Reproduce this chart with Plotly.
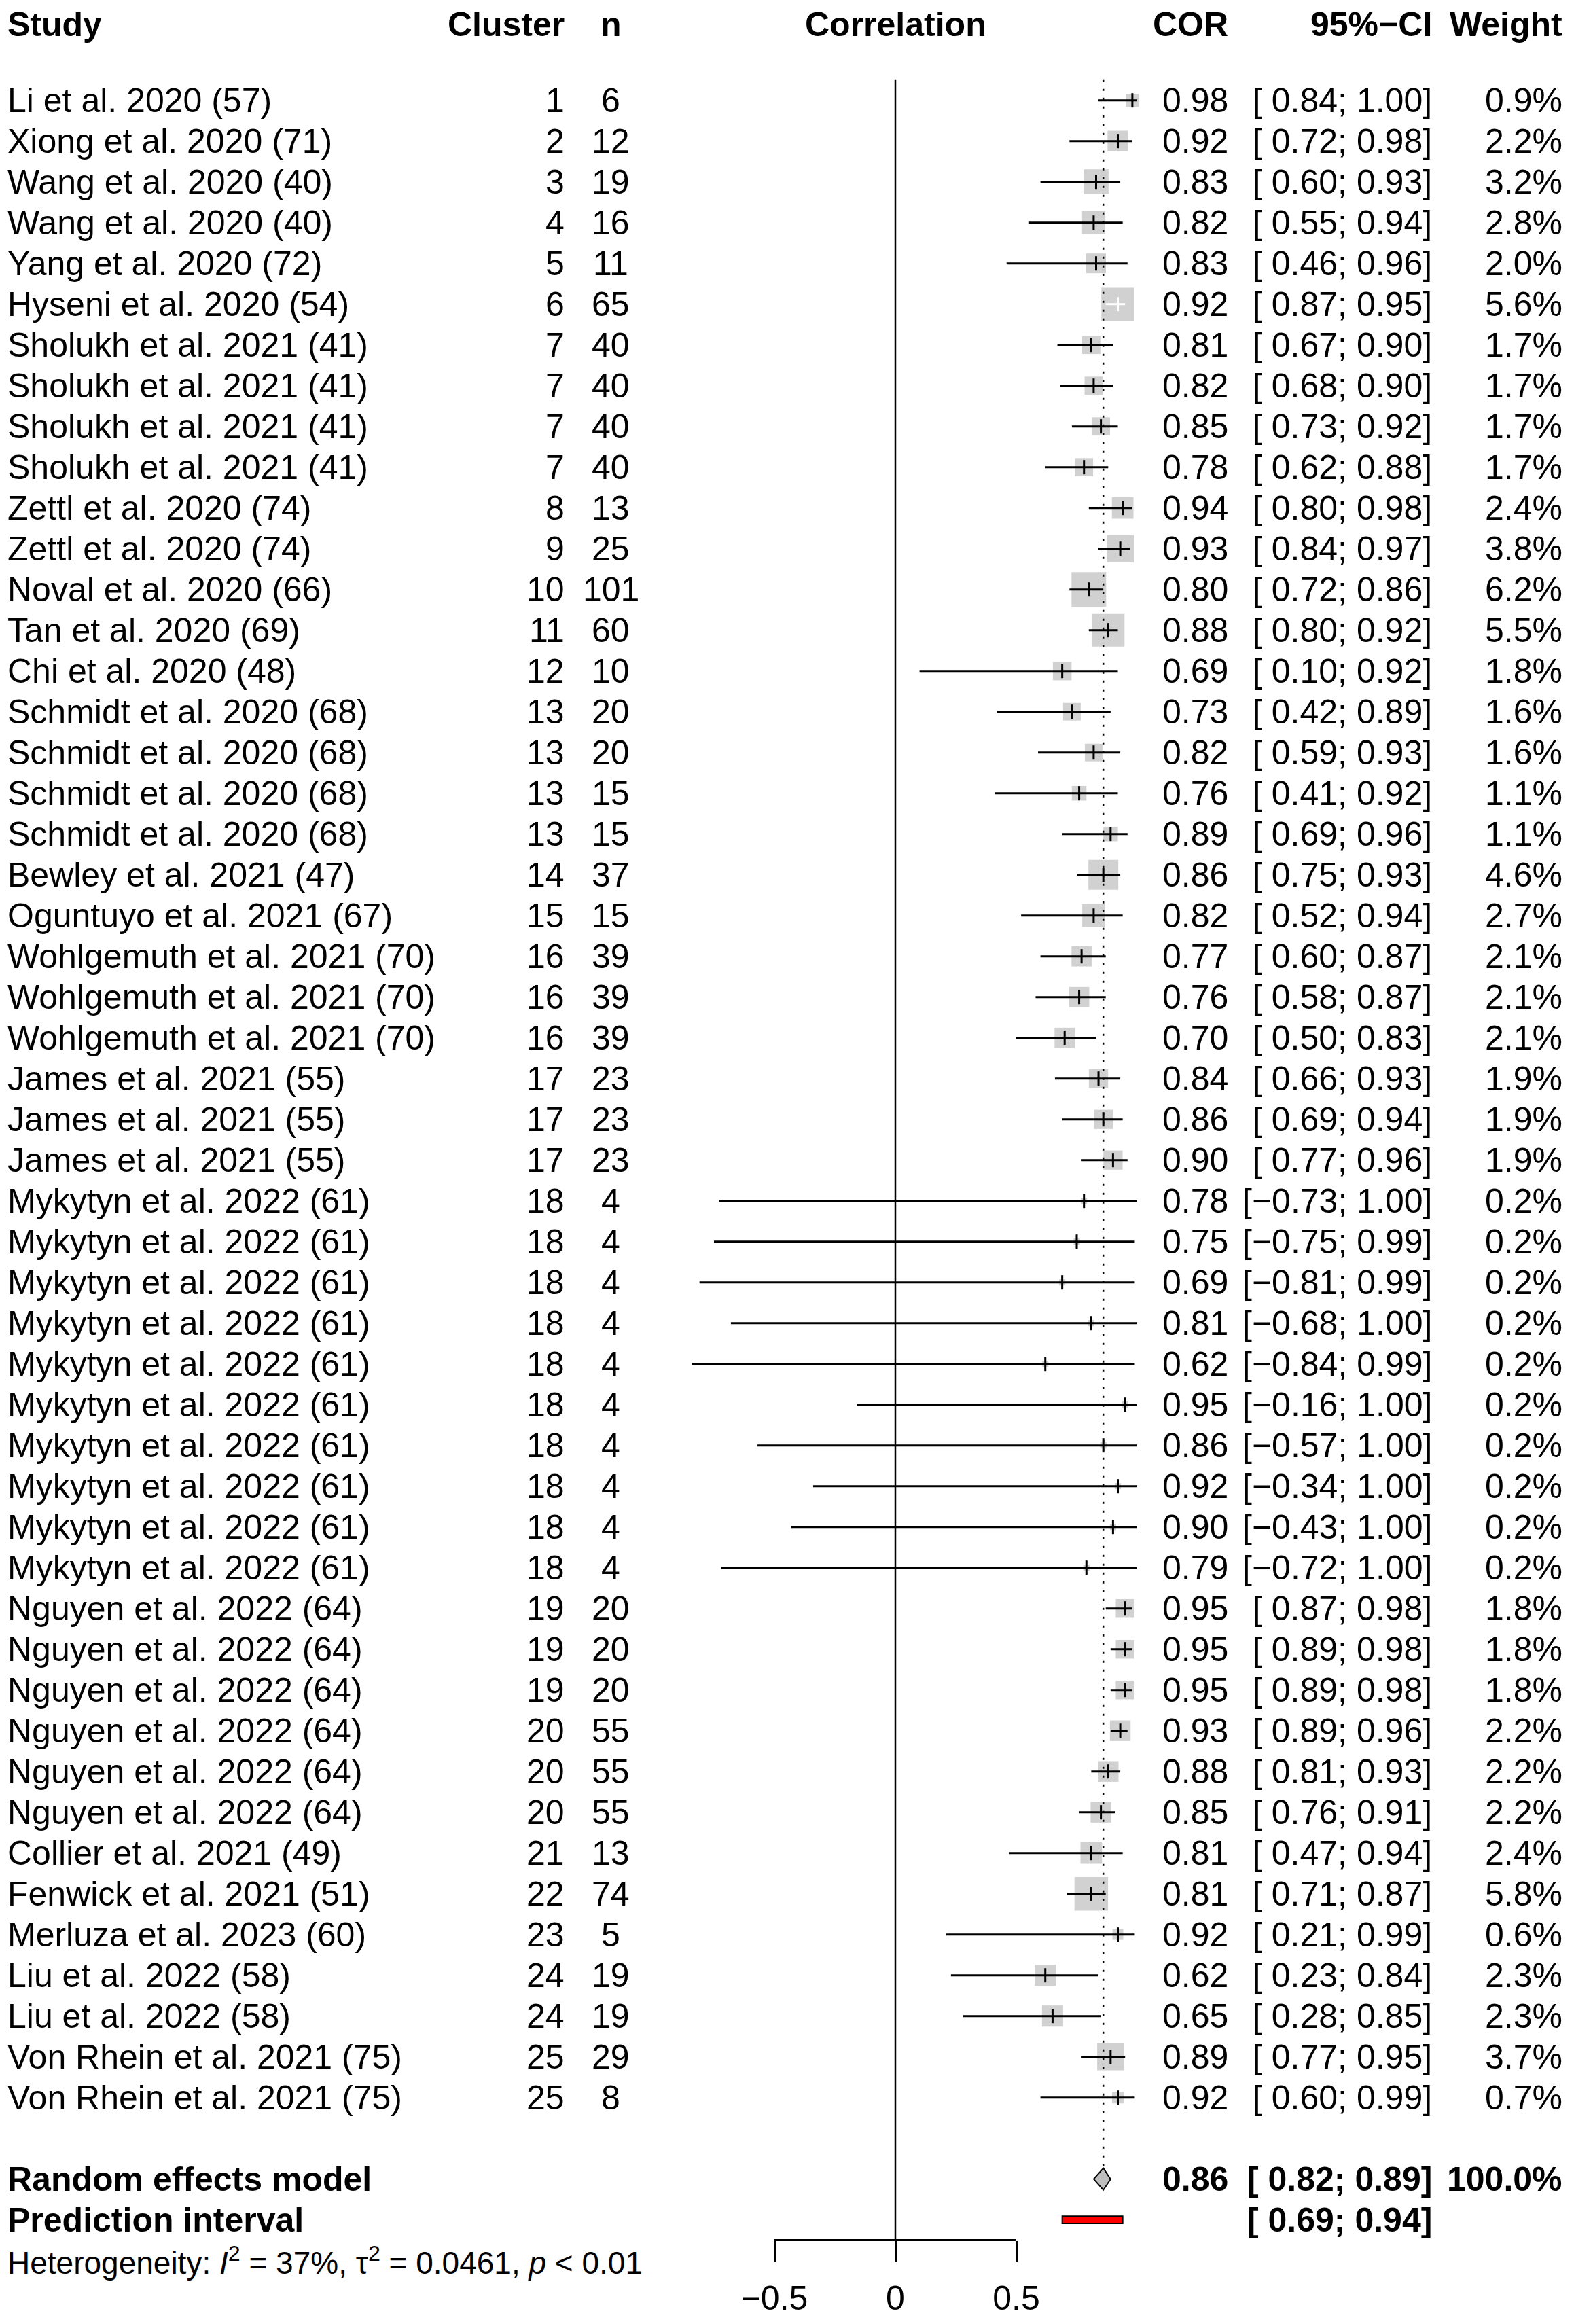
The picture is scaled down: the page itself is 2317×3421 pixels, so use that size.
import plotly.graph_objects as go

# ---- data ----
studies = [
    "Li et al. 2020 (57)", "Xiong et al. 2020 (71)", "Wang et al. 2020 (40)", "Wang et al. 2020 (40)",
    "Yang et al. 2020 (72)", "Hyseni et al. 2020 (54)", "Sholukh et al. 2021 (41)", "Sholukh et al. 2021 (41)",
    "Sholukh et al. 2021 (41)", "Sholukh et al. 2021 (41)", "Zettl et al. 2020 (74)", "Zettl et al. 2020 (74)",
    "Noval et al. 2020 (66)", "Tan et al. 2020 (69)", "Chi et al. 2020 (48)", "Schmidt et al. 2020 (68)",
    "Schmidt et al. 2020 (68)", "Schmidt et al. 2020 (68)", "Schmidt et al. 2020 (68)", "Bewley et al. 2021 (47)",
    "Oguntuyo et al. 2021 (67)", "Wohlgemuth et al. 2021 (70)", "Wohlgemuth et al. 2021 (70)",
    "Wohlgemuth et al. 2021 (70)", "James et al. 2021 (55)", "James et al. 2021 (55)", "James et al. 2021 (55)",
    "Mykytyn et al. 2022 (61)", "Mykytyn et al. 2022 (61)", "Mykytyn et al. 2022 (61)", "Mykytyn et al. 2022 (61)",
    "Mykytyn et al. 2022 (61)", "Mykytyn et al. 2022 (61)", "Mykytyn et al. 2022 (61)", "Mykytyn et al. 2022 (61)",
    "Mykytyn et al. 2022 (61)", "Mykytyn et al. 2022 (61)", "Nguyen et al. 2022 (64)", "Nguyen et al. 2022 (64)",
    "Nguyen et al. 2022 (64)", "Nguyen et al. 2022 (64)", "Nguyen et al. 2022 (64)", "Nguyen et al. 2022 (64)",
    "Collier et al. 2021 (49)", "Fenwick et al. 2021 (51)", "Merluza et al. 2023 (60)", "Liu et al. 2022 (58)",
    "Liu et al. 2022 (58)", "Von Rhein et al. 2021 (75)", "Von Rhein et al. 2021 (75)",
]
cluster = [1, 2, 3, 4, 5, 6, 7, 7, 7, 7, 8, 9, 10, 11, 12, 13, 13, 13, 13, 14, 15, 16, 16, 16, 17, 17, 17,
           18, 18, 18, 18, 18, 18, 18, 18, 18, 18, 19, 19, 19, 20, 20, 20, 21, 22, 23, 24, 24, 25, 25]
n = [6, 12, 19, 16, 11, 65, 40, 40, 40, 40, 13, 25, 101, 60, 10, 20, 20, 15, 15, 37, 15, 39, 39, 39, 23, 23, 23,
     4, 4, 4, 4, 4, 4, 4, 4, 4, 4, 20, 20, 20, 55, 55, 55, 13, 74, 5, 19, 19, 29, 8]
cor = [0.98, 0.92, 0.83, 0.82, 0.83, 0.92, 0.81, 0.82, 0.85, 0.78, 0.94, 0.93, 0.80, 0.88, 0.69, 0.73, 0.82,
       0.76, 0.89, 0.86, 0.82, 0.77, 0.76, 0.70, 0.84, 0.86, 0.90, 0.78, 0.75, 0.69, 0.81, 0.62, 0.95, 0.86,
       0.92, 0.90, 0.79, 0.95, 0.95, 0.95, 0.93, 0.88, 0.85, 0.81, 0.81, 0.92, 0.62, 0.65, 0.89, 0.92]
ci_lo = [0.84, 0.72, 0.60, 0.55, 0.46, 0.87, 0.67, 0.68, 0.73, 0.62, 0.80, 0.84, 0.72, 0.80, 0.10, 0.42, 0.59,
         0.41, 0.69, 0.75, 0.52, 0.60, 0.58, 0.50, 0.66, 0.69, 0.77, -0.73, -0.75, -0.81, -0.68, -0.84, -0.16,
         -0.57, -0.34, -0.43, -0.72, 0.87, 0.89, 0.89, 0.89, 0.81, 0.76, 0.47, 0.71, 0.21, 0.23, 0.28, 0.77, 0.60]
ci_hi = [1.00, 0.98, 0.93, 0.94, 0.96, 0.95, 0.90, 0.90, 0.92, 0.88, 0.98, 0.97, 0.86, 0.92, 0.92, 0.89, 0.93,
         0.92, 0.96, 0.93, 0.94, 0.87, 0.87, 0.83, 0.93, 0.94, 0.96, 1.00, 0.99, 0.99, 1.00, 0.99, 1.00, 1.00,
         1.00, 1.00, 1.00, 0.98, 0.98, 0.98, 0.96, 0.93, 0.91, 0.94, 0.87, 0.99, 0.84, 0.85, 0.95, 0.99]
weight = [0.9, 2.2, 3.2, 2.8, 2.0, 5.6, 1.7, 1.7, 1.7, 1.7, 2.4, 3.8, 6.2, 5.5, 1.8, 1.6, 1.6, 1.1, 1.1, 4.6,
          2.7, 2.1, 2.1, 2.1, 1.9, 1.9, 1.9, 0.2, 0.2, 0.2, 0.2, 0.2, 0.2, 0.2, 0.2, 0.2, 0.2, 1.8, 1.8, 1.8,
          2.2, 2.2, 2.2, 2.4, 5.8, 0.6, 2.3, 2.3, 3.7, 0.7]

re_cor, re_lo, re_hi, re_weight = 0.86, 0.82, 0.89, 100.0
pi_lo, pi_hi = 0.69, 0.94
i2, tau2, p_text = 37, 0.0461, "&lt; 0.01"
axis_ticks = [-0.5, 0, 0.5]

# ---- page geometry (reference pixels; the page body adds an 8px margin) ----
PAGE_W, PAGE_H = 2317, 3421
OFF = 8
W, H = PAGE_W - 2 * OFF, PAGE_H - 2 * OFF
X0_PX, PX_PER_UNIT = 1318 - OFF, 356     # where r = 0 sits, and scale
ROW0_PX, ROW_PX = 147.7 - OFF, 60        # first study row, row height
FONT = "Liberation Sans, Arial, sans-serif"
FS = 50
GRAY = "#BEBEBE"

rows = list(range(len(studies)))
row_re = len(studies) + 1
row_pi = row_re + 1
row_het = row_pi + 1
row_head = -2 + 8 / ROW_PX
axis_px = 3297 - OFF


def px_to_row(py):
    return (py - ROW0_PX) / ROW_PX


def fmt(v):
    s = f"{abs(v):.2f}"
    return ("\u2212" + s) if v < 0 else (" " + s)


fig = go.Figure()

# squares sized by weight
box_px = [20.5 * w ** 0.5 for w in weight]
fig.add_trace(go.Scatter(
    x=cor, y=rows, mode="markers", hoverinfo="skip",
    marker=dict(symbol="square", size=box_px, color=GRAY, line_width=0),
))

# confidence intervals: drawn white when well inside the square
inside = []
for c, lo, hi, b in zip(cor, ci_lo, ci_hi, box_px):
    half = 0.85 * b / 2 / PX_PER_UNIT
    inside.append(c - lo <= half and hi - c <= half)

for flag, col in [(False, "black"), (True, "white")]:
    xs, ys = [], []
    for i in rows:
        if inside[i] == flag:
            xs += [ci_lo[i], ci_hi[i], None]
            ys += [i, i, None]
    fig.add_trace(go.Scatter(x=xs, y=ys, mode="lines", hoverinfo="skip",
                             line=dict(color=col, width=3)))

fig.add_trace(go.Scatter(
    x=cor, y=rows, mode="markers", hoverinfo="skip",
    marker=dict(symbol="line-ns", size=15,
                line=dict(width=3, color=["white" if f else "black" for f in inside])),
))

# summary diamond
dh = 16 / ROW_PX
fig.add_trace(go.Scatter(
    x=[re_lo, re_cor, re_hi, re_cor, re_lo],
    y=[row_re, row_re - dh, row_re, row_re + dh, row_re],
    mode="lines", fill="toself", fillcolor=GRAY, hoverinfo="skip",
    line=dict(color="black", width=2),
))

# reference lines
fig.add_shape(type="line", x0=0, x1=0, y0=-0.5, y1=px_to_row(axis_px),
              line=dict(color="black", width=2.5))
fig.add_shape(type="line", x0=re_cor, x1=re_cor, y0=-0.5, y1=row_re - dh - 0.05,
              line=dict(color="black", width=2.5, dash="3px,10px"))

# prediction interval
fig.add_shape(type="rect", x0=pi_lo, x1=pi_hi, y0=row_pi - 0.09, y1=row_pi + 0.09,
              fillcolor="red", line=dict(color="black", width=2))

# bottom axis, only spanning the tick range (own subplot, transparent background)
fig.add_trace(go.Scatter(x=axis_ticks, y=[row_het] * len(axis_ticks), xaxis="x2", yaxis="y",
                         mode="markers", hoverinfo="skip", marker=dict(opacity=0, size=1)))

# ---- text columns ----
cols = {
    "study": (9, "left"), "cluster": (833, "right"), "n": (899, "center"),
    "cor": (1810, "right"), "ci": (2110, "right"), "w": (2302, "right"),
}


def put(text, col, row, bold=False, size=FS):
    xpx, anchor = cols[col] if isinstance(col, str) else col
    if bold:
        text = f"<b>{text}</b>"
    fig.add_annotation(x=(xpx - OFF) / W, xref="paper", y=row, yref="y", text=text,
                       xanchor=anchor, yanchor="middle", showarrow=False,
                       font=dict(family=FONT, size=size, color="black"))


for lbl, col in [("Study", "study"), ("Cluster", "cluster"), ("n", "n"),
                 ("Correlation", (1318, "center")), ("COR", "cor"),
                 ("95%\u2212CI", "ci"), ("Weight", "w")]:
    put(lbl, col, row_head, bold=True)

for i in rows:
    put(studies[i], "study", i)
    put(str(cluster[i]), "cluster", i)
    put(str(n[i]), "n", i)
    put(f"{cor[i]:.2f}", "cor", i)
    put(f"[{fmt(ci_lo[i])}; {ci_hi[i]:.2f}]", "ci", i)
    put(f"{weight[i]:.1f}%", "w", i)

put("Random effects model", "study", row_re, bold=True)
put(f"{re_cor:.2f}", "cor", row_re, bold=True)
put(f"[{fmt(re_lo)}; {re_hi:.2f}]", "ci", row_re, bold=True)
put(f"{re_weight:.1f}%", "w", row_re, bold=True)
put("Prediction interval", "study", row_pi, bold=True)
put(f"[{fmt(pi_lo)}; {pi_hi:.2f}]", "ci", row_pi, bold=True)
put(f"Heterogeneity: <i>I</i><sup>2</sup> = {i2}%, \u03c4<sup>2</sup> = {tau2:.4f}, <i>p</i> {p_text}",
    "study", row_het, size=46)

fig.update_layout(
    width=W, height=H, autosize=False,
    margin=dict(l=0, r=0, t=0, b=0, pad=0),
    paper_bgcolor="white", plot_bgcolor="rgba(0,0,0,0)",
    showlegend=False,
    xaxis=dict(range=[-X0_PX / PX_PER_UNIT, (W - X0_PX) / PX_PER_UNIT], visible=False,
               automargin=False),
    yaxis=dict(range=[px_to_row(H), px_to_row(0)], visible=False, automargin=False),
    xaxis2=dict(
        anchor="free", position=1 - axis_px / H, automargin=False,
        domain=[(X0_PX + axis_ticks[0] * PX_PER_UNIT) / W, (X0_PX + axis_ticks[-1] * PX_PER_UNIT) / W],
        range=[axis_ticks[0], axis_ticks[-1]],
        tickvals=axis_ticks, ticks="outside", ticklen=31, tickwidth=2.5, tickcolor="black",
        showline=True, linecolor="black", linewidth=2.5, showgrid=False, zeroline=False,
        tickfont=dict(family=FONT, size=FS, color="black"), ticklabelstandoff=10,
    ),
)

fig.write_html("out.html")
